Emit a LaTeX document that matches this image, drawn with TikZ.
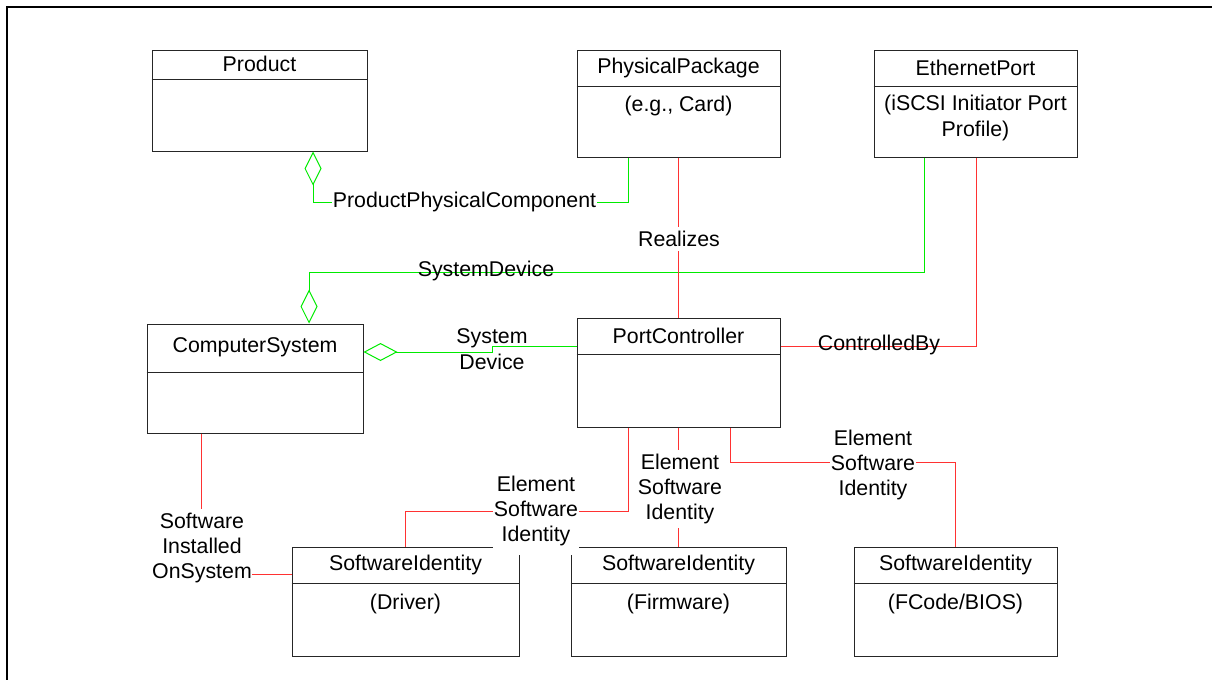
\documentclass[tikz,border=0pt]{standalone}
\usepackage{fontspec}
\setmainfont{Liberation Sans}
\usetikzlibrary{arrows.meta,fit,calc}
\definecolor{lnred}{RGB}{255,50,50}
\definecolor{lngreen}{RGB}{0,235,0}
\newcommand\umlcls[7]{%
  \node[cls, fit={(#2,#3)(#4,#5)}] (#1) {};
  \draw[boxline] (#1.west |- 0,#6) -- (#1.east |- 0,#6);
  \node[ttl] (#1-t) at ($(#1.north)!0.5!(#1.north |- 0,#6)$) {#7};
}
\begin{document}
\begin{tikzpicture}[x=0.75pt,y=-0.75pt,
  font=\fontsize{16}{19.1}\selectfont,
  boxline/.style={draw=black!85, line width=0.75pt},
  cls/.style={boxline, inner sep=0pt},
  ttl/.style={inner sep=0pt},
  lbl/.style={inner sep=0pt, align=center},
  wlbl/.style={lbl, fill=white, inner xsep=0.5pt, inner ysep=3pt},
  gline/.style={draw=lngreen, line width=0.75pt},
  rline/.style={draw=lnred, line width=0.75pt},
  aggv/.style={{Diamond[open,length=25.5pt,width=12.75pt]}-},
  aggh/.style={{Diamond[open,length=25.5pt,width=13.5pt]}-}
]
\useasboundingbox (0,0) rectangle (1212,679);
\draw[line width=1.5pt] (7,681) -- (7,7) -- (1214,7);

% classes
\umlcls{prod}{152}{50}{367}{151}{79}{Product}
\umlcls{pp}{577}{50}{780}{157}{86}{PhysicalPackage}
\umlcls{ep}{874}{50}{1077}{157}{86}{EthernetPort}
\umlcls{cs}{147}{324}{363}{433}{372}{ComputerSystem}
\umlcls{pc}{577}{318}{780}{427}{354}{PortController}
\umlcls{drv}{292}{547}{519}{656}{583}{SoftwareIdentity}
\umlcls{fw}{571}{547}{786}{656}{583}{SoftwareIdentity}
\umlcls{fc}{854}{547}{1057}{656}{583}{SoftwareIdentity}

\node[ttl] (pp-b) at (678.5,106) {(e.g., Card)};
\node[lbl] (ep-b) at (975.5,118) {(iSCSI Initiator Port\\Profile)};
\node[ttl] (drv-b) at (405.5,604) {(Driver)};
\node[ttl] (fw-b) at (678.5,604) {(Firmware)};
\node[ttl] (fc-b) at (955.5,604) {(FCode/BIOS)};

% connectors
\draw[gline, aggv] (prod.south -| 313,0) -- (313,202) -- (628,202) -- (pp.south -| 628,0);
\draw[gline, aggv] (cs.north -| 309,0) -- (309,272) -- (924,272) -- (ep.south -| 924,0);
\draw[gline, aggh] (cs.east |- 0,352) -- (492,352) -- (492,346) -- (pc.west |- 0,346);
\draw[rline] (pp.south) -- (pc.north);
\draw[rline] (pc.east |- 0,346) -- (976,346) -- (ep.south -| 976,0);
\draw[rline] (cs.south -| 201,0) -- (201,574) -- (drv.west |- 0,574);
\draw[rline] (pc.south -| 628,0) |- (drv.north |- 0,511) -- (drv.north);
\draw[rline] (pc.south) -- (fw.north);
\draw[rline] (pc.south -| 730,0) |- (fc.north |- 0,462) -- (fc.north);

% labels
\node[wlbl] (l-ppc) at (464.5,202) {ProductPhysicalComponent};
\node[wlbl] (l-real) at (679,239) {Realizes};
\node[lbl] (l-sd1) at (486,271) {SystemDevice};
\node[lbl] (l-sd2) at (492,349) {System\\Device};
\node[lbl] (l-cb) at (879,345) {ControlledBy};
\node[wlbl] (l-sis) at (202,548) {Software\\Installed\\OnSystem};
\node[wlbl, inner ysep=6.5pt] (l-esi1) at (536,511) {Element\\Software\\Identity};
\node[wlbl] (l-esi2) at (680,489) {Element\\Software\\Identity};
\node[wlbl] (l-esi3) at (873,465) {Element\\Software\\Identity};
\end{tikzpicture}
\end{document}
